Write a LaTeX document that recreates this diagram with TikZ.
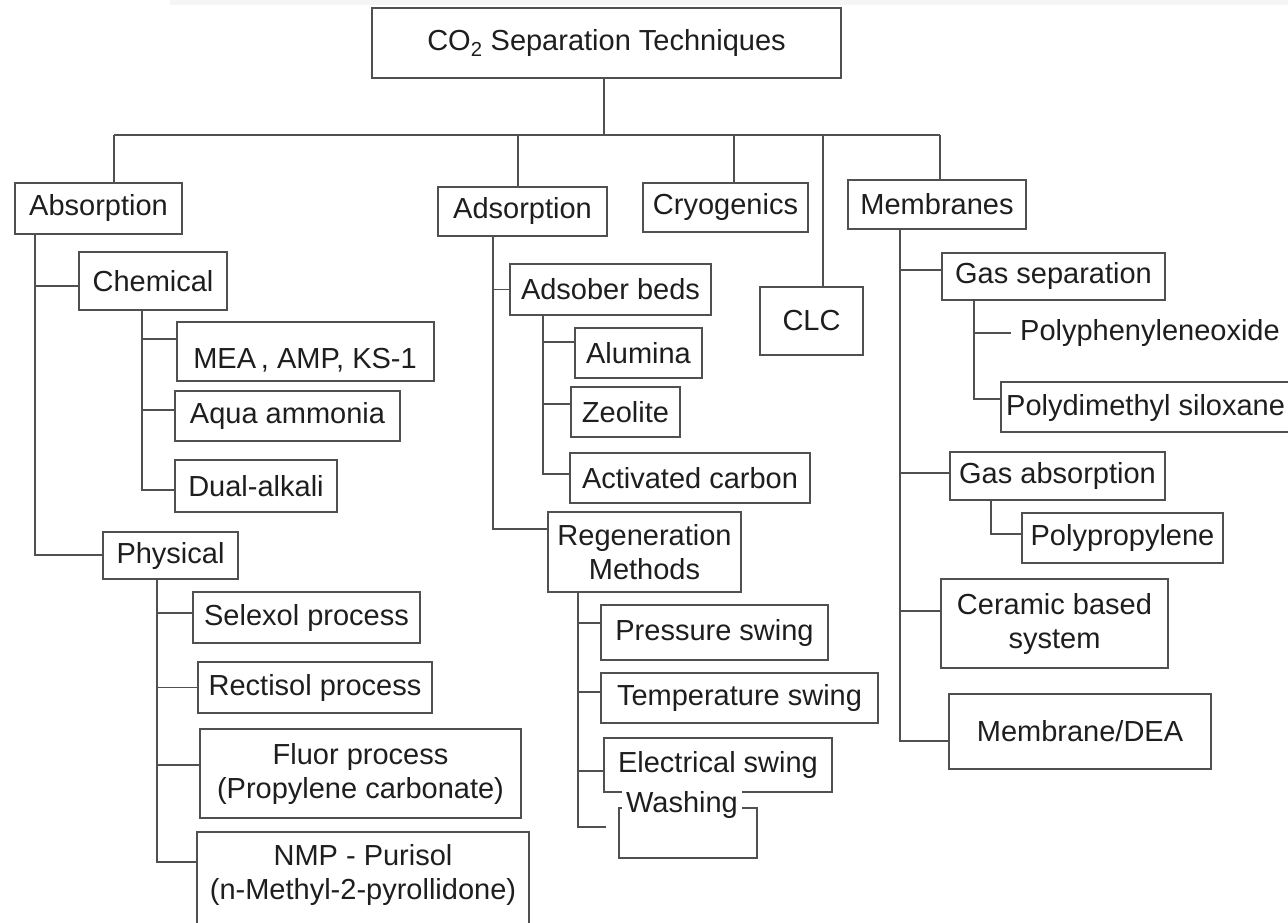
\documentclass[tikz,border=0pt]{standalone}
\usepackage{fontspec}
\setmainfont{Liberation Sans}
\definecolor{ln}{HTML}{505050}
\definecolor{tx}{HTML}{1E1E1E}
\tikzset{
  box/.style={draw=ln, line width=1.8pt, inner sep=0pt, text=tx, font=\fontsize{29}{34}\selectfont, align=center, fill=white},
  lbl/.style={inner sep=0pt, text=tx, font=\fontsize{29}{34}\selectfont, align=center},
  conn/.style={draw=ln, line width=1.6pt}
}
\newcommand\bx[6]{\node[box, minimum width={(#4-#2)*1pt}, minimum height={(#5-#3)*1pt}] (#1) at ({(#2+#4)/2},{(#3+#5)/2}) {#6};}
\begin{document}
\begin{tikzpicture}[x=1pt,y=-1pt]
\useasboundingbox (0,0) rectangle (1288,923);
\fill[white] (0,0) rectangle (1288,923);
\fill[gray!8] (170,0) rectangle (1288,5);

% boxes
\bx{top}{372}{8}{841}{78}{CO\textsubscript{2} Separation Techniques}
\bx{abs}{15}{183}{182}{234}{Absorption}
\bx{ads}{438}{187}{607}{236}{Adsorption}
\bx{cryo}{643}{183}{808}{232}{Cryogenics}
\bx{mem}{848}{180}{1026}{229}{Membranes}
\bx{clc}{760}{287}{863}{355}{CLC}

\bx{chem}{79}{252}{227}{310}{Chemical}
\bx{mea}{177}{322}{434}{381}{}
\node[lbl] (meat) at (305,360) {MEA\,, AMP, KS-1};
\bx{aqua}{175}{391}{400}{441}{Aqua ammonia}
\bx{dual}{175}{460}{337}{512}{Dual-alkali}
\bx{phys}{103}{532}{238}{579}{Physical}
\bx{sel}{193}{592}{420}{643}{Selexol process}
\bx{rec}{198}{662}{432}{713}{Rectisol process}
\bx{flu}{200}{729}{521}{818}{Fluor process\\(Propylene carbonate)}
\bx{nmp}{197}{832}{529}{945}{}
\node[lbl] (nmpt) at (363,875) {NMP - Purisol\\(n-Methyl-2-pyrollidone)};

\bx{bed}{510}{264}{711}{315}{Adsober beds}
\bx{alu}{575}{328}{702}{378}{Alumina}
\bx{zeo}{571}{387}{680}{437}{Zeolite}
\bx{act}{570}{453}{810}{503}{Activated carbon}
\bx{reg}{548}{512}{741}{592}{Regeneration\\Methods}
\bx{pre}{601}{605}{828}{660}{Pressure swing}
\bx{tem}{601}{673}{878}{723}{Temperature swing}
\bx{ele}{604}{738}{832}{792}{Electrical swing}
\bx{was}{619}{808}{757}{858}{}
\node[lbl, fill=white, inner xsep=4pt, inner ysep=2pt, text height=20pt, text depth=6pt, anchor=base] (wast) at (682,812) {Washing};

\bx{gsep}{942}{253}{1165}{300}{Gas separation}
\node[lbl, anchor=west] (ppo) at (1020,333) {Polyphenyleneoxide};
\bx{pdms}{1001}{382}{1310}{432}{}
\node[lbl, anchor=west] (pdmst) at (1006,408) {Polydimethyl siloxane};
\bx{gabs}{950}{452}{1165}{500}{Gas absorption}
\bx{pp}{1022}{513}{1223}{563}{Polypropylene}
\bx{cer}{941}{579}{1168}{668}{Ceramic based\\system}
\bx{dea}{949}{694}{1211}{769}{Membrane/DEA}

% bus
\coordinate (bus) at (604,135);
\coordinate (d1) at (114,135);
\coordinate (d2) at (518,135);
\coordinate (d3) at (734,135);
\coordinate (d4) at (823,135);
\coordinate (d5) at (940,135);
\draw[conn] (top.south -| bus) -- (bus);
\draw[conn] (d1) -- (d5);
\draw[conn] (d1) -- (d1 |- abs.north);
\draw[conn] (d2) -- (d2 |- ads.north);
\draw[conn] (d3) -- (d3 |- cryo.north);
\draw[conn] (d4) -- (d4 |- clc.north);
\draw[conn] (d5) -- (d5 |- mem.north);

% verticals
\coordinate (va) at (35,0);
\coordinate (vc) at (142,0);
\coordinate (vp) at (157,0);
\coordinate (vd) at (493,0);
\coordinate (vb) at (543,0);
\coordinate (vr) at (578,0);
\coordinate (vm) at (900,0);
\coordinate (vg) at (974,0);
\coordinate (vga) at (991,0);

% absorption
\draw[conn] (abs.south -| va) |- ([shift={(0,5)}]chem.west);
\draw[conn] (abs.south -| va) |- ([shift={(0,-0.5)}]phys.west);
\draw[conn] (chem.south -| vc) |- ([shift={(0,-12.5)}]mea.west);
\draw[conn] (chem.south -| vc) |- ([shift={(0,-6)}]aqua.west);
\draw[conn] (chem.south -| vc) |- ([shift={(0,4)}]dual.west);
\draw[conn] (phys.south -| vp) |- ([shift={(0,-4.5)}]sel.west);
\draw[conn] (phys.south -| vp) |- (rec.west);
\draw[conn] (phys.south -| vp) |- ([shift={(0,-8.5)}]flu.west);
\draw[conn] (phys.south -| vp) |- ([shift={(0,31)}]nmp.north west);

% adsorption
\draw[conn] (ads.south -| vd) |- (bed.west);
\draw[conn] (ads.south -| vd) |- ([shift={(0,18)}]reg.north west);
\draw[conn] (bed.south -| vb) |- ([shift={(0,-11)}]alu.west);
\draw[conn] (bed.south -| vb) |- ([shift={(0,-8)}]zeo.west);
\draw[conn] (bed.south -| vb) |- ([shift={(0,-4)}]act.west);
\draw[conn] (reg.south -| vr) |- ([shift={(0,-9.5)}]pre.west);
\draw[conn] (reg.south -| vr) |- ([shift={(0,-6)}]tem.west);
\draw[conn] (reg.south -| vr) |- ([shift={(0,6)}]ele.west);
\coordinate (wend) at (606,827);
\draw[conn] (reg.south -| vr) |- (wend);

% membranes
\draw[conn] (mem.south -| vm) |- ([shift={(0,-6.5)}]gsep.west);
\draw[conn] (mem.south -| vm) |- ([shift={(0,-3)}]gabs.west);
\draw[conn] (mem.south -| vm) |- ([shift={(0,-12.5)}]cer.west);
\draw[conn] (mem.south -| vm) |- ([shift={(0,9.5)}]dea.west);
\draw[conn] (gsep.south -| vg) |- ([shift={(-9,0)}]ppo.west);
\draw[conn] (gsep.south -| vg) |- ([shift={(0,-8)}]pdms.west);
\draw[conn] (gabs.south -| vga) |- ([shift={(0,-4)}]pp.west);
\end{tikzpicture}
\end{document}
